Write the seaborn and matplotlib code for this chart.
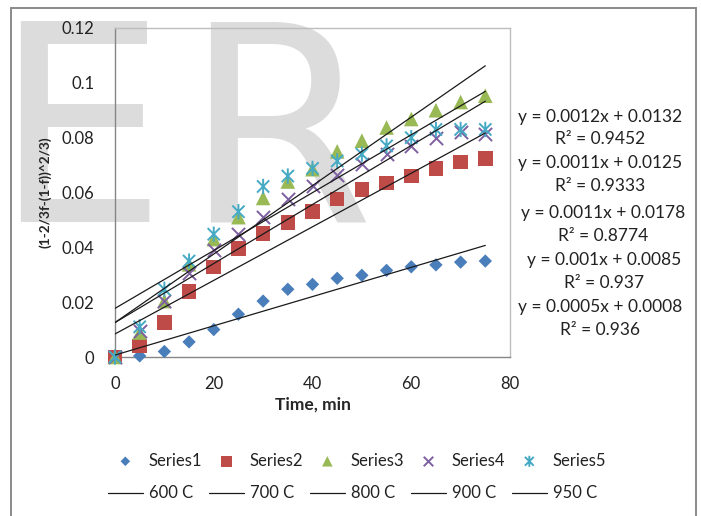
import numpy as np
import pandas as pd
import matplotlib
matplotlib.use("Agg")
import matplotlib.pyplot as plt
from matplotlib.path import Path
from matplotlib.patches import Rectangle
from matplotlib import font_manager
import seaborn as sns

# ---------------- data ----------------
time_min = [0, 5, 10, 15, 20, 25, 30, 35, 40, 45, 50, 55, 60, 65, 70, 75]
series1 = [0.0, 0.0004, 0.0020, 0.0055, 0.0100, 0.0156, 0.0204, 0.0247,
           0.0265, 0.0287, 0.0298, 0.0316, 0.0329, 0.0336, 0.0346, 0.0350]
series2 = [0.0, 0.0040, 0.0125, 0.0239, 0.0329, 0.0396, 0.0451, 0.0490,
           0.0530, 0.0576, 0.0612, 0.0634, 0.0660, 0.0688, 0.0712, 0.0725]
series3 = [0.0, 0.0089, 0.0204, 0.0338, 0.0430, 0.0510, 0.0580, 0.0640,
           0.0685, 0.0750, 0.0789, 0.0837, 0.0868, 0.0900, 0.0930, 0.0953]
series4 = [0.0, 0.0095, 0.0204, 0.0308, 0.0390, 0.0448, 0.0510, 0.0576,
           0.0624, 0.0665, 0.0703, 0.0742, 0.0770, 0.0800, 0.0819, 0.0815]
series5 = [0.0, 0.0110, 0.0247, 0.0350, 0.0448, 0.0530, 0.0622, 0.0660,
           0.0688, 0.0715, 0.0740, 0.0770, 0.0800, 0.0830, 0.0830, 0.0830]

series_names = ["Series1", "Series2", "Series3", "Series4", "Series5"]
trend_names = ["600 C", "700 C", "800 C", "900 C", "950 C"]
colors = ["#4A7EBB", "#BE4B48", "#98B954", "#7D60A0", "#46AAC5"]

eq_texts = ["y = 0.0012x + 0.0132", "y = 0.0011x + 0.0125", "y = 0.0011x + 0.0178",
            "y = 0.001x + 0.0085", "y = 0.0005x + 0.0008"]
r2_texts = ["R\u00b2 = 0.9452", "R\u00b2 = 0.9333", "R\u00b2 = 0.8774",
            "R\u00b2 = 0.937", "R\u00b2 = 0.936"]

x_ticks = [0, 20, 40, 60, 80]
x_tick_labels = ["0", "20", "40", "60", "80"]
y_ticks = [0, 0.02, 0.04, 0.06, 0.08, 0.10, 0.12]
y_tick_labels = ["0", "0.02", "0.04", "0.06", "0.08", "0.1", "0.12"]

x_label = "Time, min"
y_label = "(1-2/3f-(1-f))^2/3)"
watermark = ["E", "R"]

# ---------------- style ----------------
sns.set_theme(style="white")
plt.rcParams["font.family"] = ["Lato", "DejaVu Sans"]
plt.rcParams["text.color"] = "#222222"

installed = {f.name for f in font_manager.fontManager.ttflist}
if "Liberation Sans Narrow" in installed:
    ylab_family, ylab_size = ["Liberation Sans Narrow", "DejaVu Sans"], 11.5
else:
    ylab_family, ylab_size = ["Lato", "DejaVu Sans"], 9.8

W, H = 701, 516
fig = plt.figure(figsize=(W / 100, H / 100), dpi=100)
fig.patch.set_facecolor("white")

# watermark letters (behind everything)
for letter, xpx in zip(watermark, [-7, 183]):
    fig.text(xpx / W, 1 - 222 / H, letter, fontsize=197, color="#DCDCDC",
             ha="left", va="baseline", zorder=0, family="DejaVu Sans")

# outer chart border
fig.patches.append(Rectangle((11 / W, -0.1), (696 - 11) / W, 1.1 - 8 / H,
                             transform=fig.transFigure, fill=False,
                             edgecolor="#8A8A8A", lw=1.4, zorder=1))

ax = fig.add_axes([115 / W, 1 - 357 / H, (510 - 115) / W, (357 - 28) / H])
ax.set_facecolor("none")
ax.set_zorder(2)

star = Path([(-1, -1), (1, 1), (-1, 1), (1, -1), (0, -1.25), (0, 1.25)],
            [Path.MOVETO, Path.LINETO, Path.MOVETO, Path.LINETO, Path.MOVETO, Path.LINETO])
markers = ["D", "s", "^", "x", star]
sizes = [6.8 ** 2, 10.5 ** 2, 10.5 ** 2, 9.5 ** 2, 11 ** 2]
all_series = [series1, series2, series3, series4, series5]

df = pd.DataFrame({"time": time_min})
for name, vals in zip(series_names, all_series):
    df[name] = vals

for i, name in enumerate(series_names):
    if i < 3:
        sns.scatterplot(data=df, x="time", y=name, ax=ax, marker=markers[i],
                        s=sizes[i], color=colors[i], edgecolor="none",
                        linewidth=0, label=name, zorder=3, clip_on=False)
    elif i == 3:
        sns.scatterplot(data=df, x="time", y=name, ax=ax, marker=markers[i],
                        s=sizes[i], color=colors[i], linewidth=1.4,
                        label=name, zorder=3, clip_on=False)
    else:
        sns.scatterplot(data=df, x="time", y=name, ax=ax, marker=markers[i],
                        s=sizes[i], color=colors[i], edgecolor=colors[i],
                        facecolor="none", linewidth=1.4,
                        label=name, zorder=3, clip_on=False)

for i, name in enumerate(series_names):
    sns.regplot(data=df, x="time", y=name, ax=ax, scatter=False, ci=None,
                truncate=True, color="#1a1a1a",
                line_kws=dict(lw=0.9, zorder=4), label=trend_names[i])

ax.set_xlim(0, 80)
ax.set_ylim(0, 0.12)
ax.set_xticks(x_ticks)
ax.set_xticklabels(x_tick_labels)
ax.set_yticks(y_ticks)
ax.set_yticklabels(y_tick_labels)
ax.tick_params(axis="both", length=0, labelsize=12, colors="#222222")
ax.tick_params(axis="y", pad=15)
ax.tick_params(axis="x", pad=14)
ax.set_xlabel(x_label, fontsize=12.5, fontweight="bold", labelpad=3)
ax.set_ylabel(y_label, fontsize=ylab_size, fontweight="bold", labelpad=7,
              family=ylab_family)
for side in ["left", "bottom"]:
    ax.spines[side].set_color("#868686")
    ax.spines[side].set_linewidth(1.0)
for side in ["top", "right"]:
    ax.spines[side].set_color("#BDBDBD")
    ax.spines[side].set_linewidth(1.0)

# equation labels
eq_y = [117, 163, 213, 260, 307]
r2_y = [139, 186, 236, 283, 330]
eq_x = [600, 600, 603, 604, 600]
for i in range(5):
    fig.text(eq_x[i] / W, 1 - eq_y[i] / H, eq_texts[i], ha="center", va="center",
             fontsize=12.5, color="#222222")
    fig.text(eq_x[i] / W, 1 - r2_y[i] / H, r2_texts[i], ha="center", va="center",
             fontsize=12.5, color="#222222")

# legend: two rows (markers, then trend lines)
handles, labels = ax.get_legend_handles_labels()
if ax.legend_:
    ax.legend_.remove()
hmap = dict(zip(labels, handles))
order = []
for s, t in zip(series_names, trend_names):
    order += [s, t]
leg = fig.legend([hmap[k] for k in order], order, ncol=5, loc="center",
                 bbox_to_anchor=(357 / W, 1 - 477 / H), frameon=False,
                 fontsize=12, markerscale=0.72, handlelength=2.1,
                 handletextpad=0.35, columnspacing=0.4, labelspacing=1.0)
for t in leg.get_texts():
    t.set_color("#222222")

fig.savefig("out.png", dpi=100, facecolor="white")
